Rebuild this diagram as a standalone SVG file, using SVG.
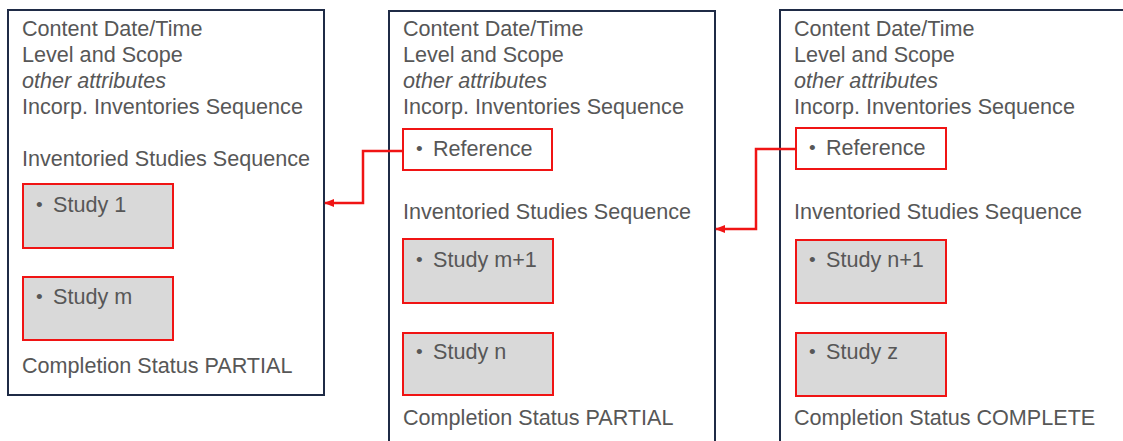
<svg xmlns="http://www.w3.org/2000/svg" width="1123" height="441" viewBox="0 0 1123 441">
  <style>
    .frame { fill: #ffffff; stroke: #1f2b46; stroke-width: 2; }
    .item { fill: #d9d9d9; stroke: #f01414; stroke-width: 2; }
    .ref { fill: #ffffff; stroke: #f01414; stroke-width: 2; }
    .t { font-family: "Liberation Sans", Arial, sans-serif; font-size: 21.6px; fill: #575757; }
    .b { font-size: 19px; }
    .i { font-style: italic; }
    .link { fill: none; stroke: #f01414; stroke-width: 2.5; }
  </style>
  <defs>
    <marker id="arrow" markerWidth="10" markerHeight="10" refX="9" refY="5" orient="auto" markerUnits="userSpaceOnUse">
      <path d="M0,1 L10,5 L0,9 Z" fill="#f01414"/>
    </marker>
  </defs>
  <rect width="1123" height="441" fill="#ffffff"/>

  <!-- Inventory 1 -->
  <g id="inventory1">
    <rect class="frame" x="8" y="10" width="316" height="385"/>
    <text class="t" x="22" y="36">Content Date/Time</text>
    <text class="t" x="22" y="62">Level and Scope</text>
    <text class="t i" x="22" y="88">other attributes</text>
    <text class="t" x="22" y="114">Incorp. Inventories Sequence</text>
    <text class="t" x="22" y="166">Inventoried Studies Sequence</text>
    <g id="study1">
      <rect class="item" x="23" y="184" width="150" height="64"/>
      <text class="t b" x="36" y="211">•</text><text class="t" x="53" y="212">Study 1</text>
    </g>
    <g id="studym">
      <rect class="item" x="23" y="277" width="150" height="63"/>
      <text class="t b" x="36" y="303">•</text><text class="t" x="53" y="304">Study m</text>
    </g>
    <text class="t" x="22" y="373">Completion Status PARTIAL</text>
  </g>

  <!-- Inventory 2 -->
  <g id="inventory2">
    <rect class="frame" x="389" y="11" width="326" height="440"/>
    <text class="t" x="403" y="36">Content Date/Time</text>
    <text class="t" x="403" y="62">Level and Scope</text>
    <text class="t i" x="403" y="88">other attributes</text>
    <text class="t" x="403" y="114">Incorp. Inventories Sequence</text>
    <g id="reference2">
      <rect class="ref" x="403" y="129" width="149" height="41"/>
      <text class="t b" x="416" y="155">•</text><text class="t" x="433" y="156">Reference</text>
    </g>
    <text class="t" x="403" y="219">Inventoried Studies Sequence</text>
    <g id="studym1">
      <rect class="item" x="403" y="239" width="150" height="64"/>
      <text class="t b" x="416" y="266">•</text><text class="t" x="433" y="267">Study m+1</text>
    </g>
    <g id="studyn">
      <rect class="item" x="403" y="333" width="150" height="62"/>
      <text class="t b" x="416" y="358">•</text><text class="t" x="433" y="359">Study n</text>
    </g>
    <text class="t" x="403" y="425">Completion Status PARTIAL</text>
  </g>

  <!-- Inventory 3 -->
  <g id="inventory3">
    <rect class="frame" x="780" y="10" width="360" height="440"/>
    <text class="t" x="794" y="36">Content Date/Time</text>
    <text class="t" x="794" y="62">Level and Scope</text>
    <text class="t i" x="794" y="88">other attributes</text>
    <text class="t" x="794" y="114">Incorp. Inventories Sequence</text>
    <g id="reference3">
      <rect class="ref" x="796" y="128" width="150" height="41"/>
      <text class="t b" x="809" y="154">•</text><text class="t" x="826" y="155">Reference</text>
    </g>
    <text class="t" x="794" y="219">Inventoried Studies Sequence</text>
    <g id="studyn1">
      <rect class="item" x="796" y="240" width="150" height="63"/>
      <text class="t b" x="809" y="266">•</text><text class="t" x="826" y="267">Study n+1</text>
    </g>
    <g id="studyz">
      <rect class="item" x="796" y="333" width="150" height="63"/>
      <text class="t b" x="809" y="358">•</text><text class="t" x="826" y="359">Study z</text>
    </g>
    <text class="t" x="794" y="425">Completion Status COMPLETE</text>
  </g>

  <!-- Reference links -->
  <g id="connectors">
    <path class="link" d="M403,151 H363 V203 H325" marker-end="url(#arrow)"/>
    <path class="link" d="M796,149 H756 V229 H716" marker-end="url(#arrow)"/>
  </g>
</svg>
